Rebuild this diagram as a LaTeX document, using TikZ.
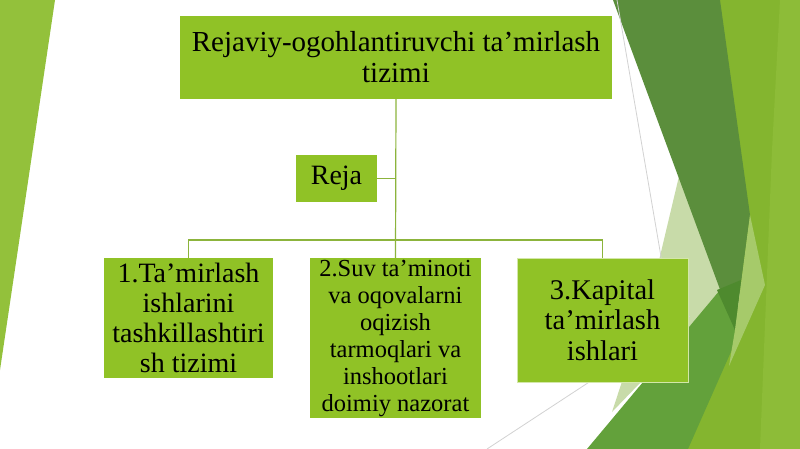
\documentclass[tikz,border=0pt]{standalone}
\usepackage{fontspec}
\setmainfont{Liberation Serif}
\definecolor{boxgreen}{HTML}{90C226}
\definecolor{leftgreen}{HTML}{93C13B}
\definecolor{darkband}{HTML}{5B8E3C}
\definecolor{darktip}{HTML}{4E8A2E}
\definecolor{brightR}{HTML}{84B52F}
\definecolor{lighterR}{HTML}{8DBC38}
\definecolor{pale}{HTML}{C8DBA9}
\definecolor{Dgreen}{HTML}{63A13B}
\definecolor{lightstrip}{HTML}{A6CA6A}
\definecolor{thinline}{HTML}{D2D2D2}
\definecolor{conn}{RGB}{140,180,60}
\begin{document}
\begin{tikzpicture}[x=1pt,y=-1pt,
  box/.style={fill=boxgreen, inner sep=0pt, align=center, text=black},
  connector/.style={draw=conn, line width=1.2pt},
  deco/.style={draw=thinline, line width=0.8pt}]
\useasboundingbox (0,0) rectangle (800,449);
\fill[white] (0,0) rectangle (800,449);
% background decoration
\fill[leftgreen] (0,0) -- (55,0) -- (0,370) -- cycle;
\fill[brightR] (700,0) -- (800,0) -- (800,449) -- (640,449) -- (740,250) -- cycle;
\fill[lighterR] (780,0) -- (800,0) -- (800,449) -- (760,449) -- (772,150) -- cycle;
\fill[pale] (680,172) -- (745,300) -- (640,383) -- (612,412) -- (652,290) -- cycle;
\fill[Dgreen] (587,449) -- (720,290) -- (745,320) -- (688,449) -- cycle;
\fill[darkband] (613,0) -- (720,0) -- (750,215) -- (735,330) -- cycle;
\fill[darktip] (717,290) -- (741,280) -- (735,330) -- cycle;
\fill[lightstrip] (750,215) -- (765,285) -- (729,366) -- (735,330) -- cycle;
\draw[deco] (617,0) -- (665,280);
\draw[deco] (487,449) -- (690,316);
% nodes
\node[box, minimum width=432pt, minimum height=83pt, font=\fontsize{29}{31}\selectfont]
  (top) at (396,57.5) {Rejaviy-ogohlantiruvchi ta’mirlash\\tizimi};
\node[box, minimum width=81pt, minimum height=47pt, font=\fontsize{28}{30}\selectfont]
  (reja) at (336.5,178.5) {Reja};
\node[box, minimum width=169pt, minimum height=120pt, font=\fontsize{28}{30}\selectfont]
  (b1) at (188.5,318) {1.Ta’mirlash\\ishlarini\\tashkillashtiri\\sh tizimi};
\node[box, minimum width=171pt, minimum height=160pt, font=\fontsize{24.5}{27}\selectfont]
  (b2) at (395.5,338) {2.Suv ta’minoti\\va oqovalarni\\oqizish\\tarmoqlari va\\inshootlari\\doimiy nazorat};
\node[box, draw=white!60!boxgreen, line width=0.8pt, minimum width=171pt, minimum height=124pt, font=\fontsize{28.5}{30.5}\selectfont]
  (b3) at (602.5,320) {3.Kapital\\ta’mirlash\\ishlari};
% connectors
\coordinate (bus) at (396,240);
\draw[connector] (top.south) -- (b2.north);
\draw[connector] (b1.north) |- (bus) -| (b3.north);
\draw[connector] (reja.east) -- (reja.east -| top.south);
\end{tikzpicture}
\end{document}
